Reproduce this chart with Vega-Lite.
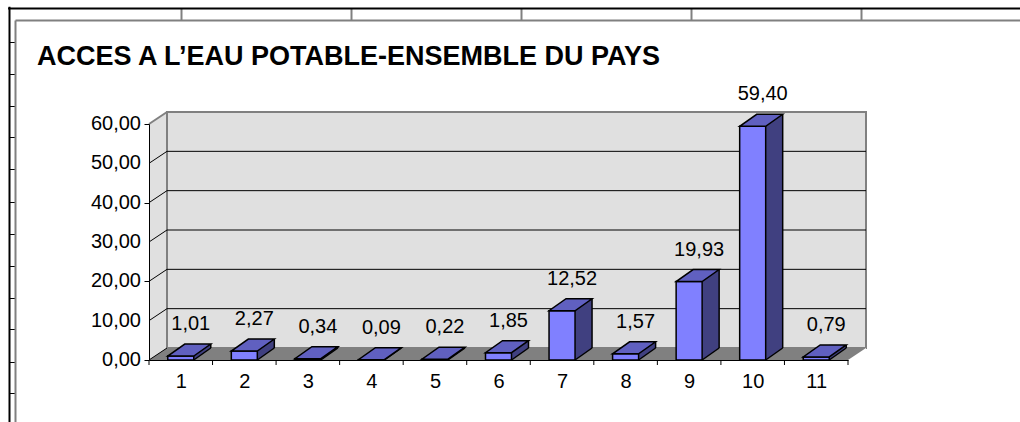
{
  "$schema": "https://vega.github.io/schema/vega-lite/v6.json",
  "width": 699,
  "height": 236,
  "autosize": {"type": "none"},
  "padding": {"left": 149, "top": 124, "right": 172, "bottom": 62},
  "background": "white",
  "config": {
    "view": {"stroke": null},
    "font": "Liberation Sans",
    "axis": {"labelOverlap": false},
    "locale": {"number": {"decimal": ",", "thousands": " ", "grouping": [3], "currency": ["", " €"]}}
  },
  "title": {
    "text": "ACCES A L’EAU POTABLE-ENSEMBLE DU PAYS",
    "anchor": "start",
    "frame": "group",
    "dx": -112,
    "dy": 68,
    "fontSize": 27,
    "fontWeight": "bold",
    "font": "Liberation Sans",
    "color": "black"
  },
  "datasets": {
    "bars": [
      {"cat": 1, "value": 1.01},
      {"cat": 2, "value": 2.27},
      {"cat": 3, "value": 0.34},
      {"cat": 4, "value": 0.09},
      {"cat": 5, "value": 0.22},
      {"cat": 6, "value": 1.85},
      {"cat": 7, "value": 12.52},
      {"cat": 8, "value": 1.57},
      {"cat": 9, "value": 19.93},
      {"cat": 10, "value": 59.40},
      {"cat": 11, "value": 0.79}
    ],
    "bounds": [
      {"b": 0.5}, {"b": 1.5}, {"b": 2.5}, {"b": 3.5}, {"b": 4.5}, {"b": 5.5},
      {"b": 6.5}, {"b": 7.5}, {"b": 8.5}, {"b": 9.5}, {"b": 10.5}, {"b": 11.5}
    ],
    "yticks": [{"t": 0}, {"t": 10}, {"t": 20}, {"t": 30}, {"t": 40}, {"t": 50}, {"t": 60}],
    "grid": [{"g": 0}, {"g": 10}, {"g": 20}, {"g": 30}, {"g": 40}, {"g": 50}],
    "backgrid": [{"g": 10}, {"g": 20}, {"g": 30}, {"g": 40}, {"g": 50}],
    "frame": [{"c": 1, "r": 0}]
  },
  "layer": [
    {
      "data": {"name": "frame"},
      "mark": {"type": "point", "opacity": 0},
      "encoding": {
        "x": {
          "field": "c", "type": "quantitative",
          "scale": {"domain": [-0.02, 6], "range": [-141.4, 882], "nice": false, "zero": false},
          "axis": {"orient": "top", "offset": 116, "values": [1, 2, 3, 4, 5], "tickSize": -12, "tickColor": "#808080", "tickWidth": 2, "domainColor": "black", "domainWidth": 2, "labels": false, "title": null, "grid": false}
        },
        "y": {
          "field": "r", "type": "quantitative",
          "scale": {"domain": [-1.1, 12], "range": [-117.7, 301.5], "nice": false, "zero": false},
          "axis": {"orient": "left", "offset": 140, "values": [0, 1, 2, 3, 4, 5, 6, 7, 8, 9, 10, 11], "tickSize": -6, "tickColor": "black", "tickWidth": 1, "domainColor": "black", "domainWidth": 2, "labels": false, "title": null, "grid": false}
        }
      }
    },
    {
      "data": {"name": "frame"},
      "mark": {"type": "point", "opacity": 0},
      "encoding": {
        "x": {
          "field": "c", "type": "quantitative",
          "scale": {"domain": [0, 1], "range": [-134, 880], "nice": false, "zero": false},
          "axis": {"orient": "top", "offset": 104, "ticks": false, "labels": false, "domainColor": "#808080", "domainWidth": 2, "title": null, "grid": false}
        },
        "y": {
          "field": "r", "type": "quantitative",
          "scale": {"domain": [0, 1], "range": [-104, 310], "nice": false, "zero": false},
          "axis": {"orient": "left", "offset": 134, "ticks": false, "labels": false, "domainColor": "#808080", "domainWidth": 2, "title": null, "grid": false}
        }
      }
    },
    {
      "layer": [
        {
          "data": {"values": [{}]},
          "mark": {"type": "rect", "fill": "#e0e0e0", "x2Offset": 18, "yOffset": -12},
          "encoding": {
            "x": {"datum": 0.5, "type": "quantitative", "scale": {"domain": [0.5, 11.5], "nice": false, "zero": false}},
            "x2": {"datum": 0.5},
            "y": {"datum": 60, "type": "quantitative", "scale": {"domain": [0, 60], "nice": false, "zero": true}},
            "y2": {"datum": 0}
          }
        },
        {
          "data": {"values": [{}]},
          "mark": {"type": "rect", "fill": "#e0e0e0", "stroke": "#808080", "strokeWidth": 2, "xOffset": 18, "x2Offset": 18, "yOffset": -12, "y2Offset": -12},
          "encoding": {
            "x": {"datum": 0.5, "type": "quantitative"},
            "x2": {"datum": 11.5},
            "y": {"datum": 60, "type": "quantitative"},
            "y2": {"datum": 0}
          }
        },
        {
          "data": {"values": [{}]},
          "mark": {"type": "rect", "fill": "#808080", "x2Offset": 18, "yOffset": -12},
          "encoding": {
            "x": {"datum": 0.5, "type": "quantitative"},
            "x2": {"datum": 11.5},
            "y": {"datum": 0, "type": "quantitative"},
            "y2": {"datum": 0}
          }
        },
        {
          "data": {"values": [{}]},
          "mark": {"type": "point", "shape": "M0,0 L0,-12 L18,-12 Z", "size": 4, "filled": true, "fill": "#e0e0e0", "opacity": 1, "strokeWidth": 0},
          "encoding": {
            "x": {"datum": 0.5, "type": "quantitative"},
            "y": {"datum": 0, "type": "quantitative"}
          }
        },
        {
          "data": {"values": [{}]},
          "mark": {"type": "point", "shape": "M0,0 L0,-12 L18,-12 Z", "size": 4, "filled": true, "fill": "white", "opacity": 1, "strokeWidth": 0},
          "encoding": {
            "x": {"datum": 0.5, "type": "quantitative"},
            "y": {"datum": 60, "type": "quantitative"}
          }
        },
        {
          "data": {"values": [{}]},
          "mark": {"type": "point", "shape": "M0,0 L18,0 L18,-12 Z", "size": 4, "filled": true, "fill": "white", "opacity": 1, "strokeWidth": 0},
          "encoding": {
            "x": {"datum": 11.5, "type": "quantitative"},
            "y": {"datum": 0, "type": "quantitative"}
          }
        },
        {
          "data": {"values": [{}]},
          "mark": {"type": "rule", "color": "#808080", "strokeWidth": 2, "x2Offset": 18, "y2Offset": -12},
          "encoding": {
            "x": {"datum": 0.5, "type": "quantitative"},
            "x2": {"datum": 0.5},
            "y": {"datum": 60, "type": "quantitative"},
            "y2": {"datum": 60}
          }
        },
        {
          "data": {"name": "grid"},
          "mark": {"type": "rule", "color": "black", "strokeWidth": 1, "x2Offset": 18, "y2Offset": -12},
          "encoding": {
            "x": {"datum": 0.5, "type": "quantitative"},
            "x2": {"datum": 0.5},
            "y": {"field": "g", "type": "quantitative", "title": null},
            "y2": {"field": "g"}
          }
        },
        {
          "data": {"name": "backgrid"},
          "mark": {"type": "rule", "color": "black", "strokeWidth": 1, "xOffset": 18, "x2Offset": 18, "yOffset": -12},
          "encoding": {
            "x": {"datum": 0.5, "type": "quantitative"},
            "x2": {"datum": 11.5},
            "y": {"field": "g", "type": "quantitative", "title": null}
          }
        },
        {
          "data": {"name": "bounds"},
          "mark": {"type": "rule", "color": "black", "strokeWidth": 1, "y2Offset": 5},
          "encoding": {
            "x": {"field": "b", "type": "quantitative", "title": null},
            "y": {"datum": 0, "type": "quantitative"},
            "y2": {"datum": 0}
          }
        },
        {
          "data": {"name": "yticks"},
          "mark": {"type": "text", "align": "right", "baseline": "middle", "dx": -8, "fontSize": 20, "font": "Liberation Sans", "color": "black"},
          "encoding": {
            "x": {"datum": 0.5, "type": "quantitative"},
            "y": {"field": "t", "type": "quantitative", "title": null},
            "text": {"field": "t", "type": "quantitative", "format": ".2f"}
          }
        },
        {
          "data": {"name": "bars"},
          "mark": {"type": "rect", "fill": "#404080", "xOffset": 13, "x2Offset": 30, "yOffset": -12, "y2Offset": -12},
          "encoding": {
            "x": {"field": "cat", "type": "quantitative", "title": null},
            "x2": {"field": "cat"},
            "y": {"field": "value", "type": "quantitative", "title": null},
            "y2": {"datum": 0}
          }
        },
        {
          "data": {"name": "bars"},
          "mark": {"type": "point", "shape": "M13,0 L13,-12 L30,-12 Z", "size": 4, "filled": true, "fill": "#404080", "opacity": 1, "strokeWidth": 0},
          "encoding": {
            "x": {"field": "cat", "type": "quantitative", "title": null},
            "y": {"datum": 0, "type": "quantitative"}
          }
        },
        {
          "data": {"name": "bars"},
          "mark": {"type": "rule", "color": "black", "strokeWidth": 1.5, "xOffset": 30, "yOffset": -12, "y2Offset": -12},
          "encoding": {
            "x": {"field": "cat", "type": "quantitative", "title": null},
            "y": {"field": "value", "type": "quantitative", "title": null},
            "y2": {"datum": 0}
          }
        },
        {
          "data": {"name": "bars"},
          "mark": {"type": "point", "shape": "M13,0 L30,-12", "size": 4, "filled": false, "color": "black", "opacity": 1, "strokeWidth": 1.5},
          "encoding": {
            "x": {"field": "cat", "type": "quantitative", "title": null},
            "y": {"datum": 0, "type": "quantitative"}
          }
        },
        {
          "data": {"name": "bars"},
          "mark": {"type": "rect", "fill": "#8080ff", "stroke": "black", "strokeWidth": 1.5, "xOffset": -13, "x2Offset": 13},
          "encoding": {
            "x": {
              "field": "cat", "type": "quantitative",
              "scale": {"domain": [0.5, 11.5], "nice": false, "zero": false},
              "axis": {
                "orient": "bottom", "zindex": 1,
                "values": [1, 2, 3, 4, 5, 6, 7, 8, 9, 10, 11],
                "format": "d",
                "ticks": false,
                "domainColor": "black", "domainWidth": 1,
                "labelFontSize": 20, "labelFont": "Liberation Sans", "labelColor": "black", "labelPadding": 11,
                "labelOverlap": false, "labelBound": false, "labelFlush": false, "grid": false, "title": null
              }
            },
            "x2": {"field": "cat"},
            "y": {
              "field": "value", "type": "quantitative",
              "scale": {"domain": [0, 60], "nice": false, "zero": true},
              "axis": {
                "orient": "left", "zindex": 1,
                "values": [0, 10, 20, 30, 40, 50, 60],
                "labels": false,
                "tickSize": 5, "tickColor": "black", "domainColor": "black", "domainWidth": 1,
                "grid": false, "title": null
              }
            },
            "y2": {"datum": 0}
          }
        },
        {
          "data": {"name": "bars"},
          "mark": {"type": "point", "shape": "M-13,0 L13,0 L30,-12 L4,-12 Z", "size": 4, "filled": true, "fill": "#6060c0", "stroke": "black", "strokeWidth": 1.5, "opacity": 1},
          "encoding": {
            "x": {"field": "cat", "type": "quantitative", "title": null},
            "y": {"field": "value", "type": "quantitative", "title": null}
          }
        },
        {
          "data": {"name": "bars"},
          "mark": {"type": "text", "dx": 10, "dy": -32, "fontSize": 20, "font": "Liberation Sans", "color": "black", "baseline": "middle", "align": "center"},
          "encoding": {
            "x": {"field": "cat", "type": "quantitative", "title": null},
            "y": {"field": "value", "type": "quantitative", "title": null},
            "text": {"field": "value", "type": "quantitative", "format": ".2f"}
          }
        }
      ]
    }
  ],
  "resolve": {"scale": {"x": "independent", "y": "independent"}}
}
